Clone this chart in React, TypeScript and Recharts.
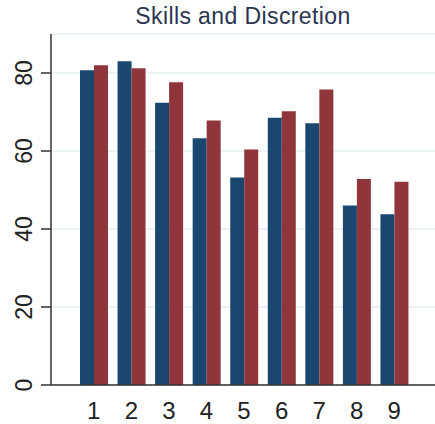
import React from 'react';
import { BarChart, Bar, XAxis, YAxis, CartesianGrid } from 'recharts';

const categories = ['1', '2', '3', '4', '5', '6', '7', '8', '9'];
const seriesA = [80.7, 83.0, 72.4, 63.3, 53.2, 68.5, 67.1, 46.0, 43.8];
const seriesB = [82.0, 81.2, 77.6, 67.8, 60.4, 70.2, 75.8, 52.8, 52.1];
const yTicks = [0, 20, 40, 60, 80];
const title = 'Skills and Discretion';

const data = categories.map((c, i) => ({ cat: c, a: seriesA[i], b: seriesB[i] }));

const YTick = (props: any) => {
  const { y, payload } = props;
  return (
    <text
      x={0}
      y={0}
      transform={`translate(24, ${y}) rotate(-90)`}
      textAnchor="middle"
      dominantBaseline="central"
      fontSize={23}
      fill="#222"
      fontFamily="Liberation Sans, Arial, sans-serif"
    >
      {payload.value}
    </text>
  );
};

const XTick = (props: any) => {
  const { x, payload } = props;
  return (
    <text
      x={x}
      y={419}
      textAnchor="middle"
      fontSize={24}
      fill="#222"
      fontFamily="Liberation Sans, Arial, sans-serif"
    >
      {payload.value}
    </text>
  );
};

export default function App() {
  return (
    <div style={{ position: 'fixed', left: 0, top: 0, width: 435, height: 424, background: '#fff' }}>
      <div
        style={{
          position: 'absolute',
          left: 51,
          width: 384,
          top: 3,
          textAlign: 'center',
          fontFamily: 'Liberation Sans, Arial, sans-serif',
          fontSize: 23,
          letterSpacing: 0.4,
          lineHeight: '26px',
          color: '#2a3552',
        }}
      >
        {title}
      </div>
      <BarChart
        width={435}
        height={424}
        data={data}
        margin={{ top: 34, right: 0, left: 0, bottom: 0 }}
        barCategoryGap={5}
        barGap={0}
      >
        <CartesianGrid vertical={false} stroke="#e6eff1" strokeWidth={1.5} />
        <XAxis
          dataKey="cat"
          height={39}
          padding={{ left: 24, right: 22 }}
          tickLine={false}
          axisLine={{ stroke: '#333', strokeWidth: 1.5 }}
          tick={<XTick />}
          interval={0}
        />
        <YAxis
          width={51}
          domain={[0, 90]}
          ticks={yTicks}
          allowDataOverflow
          axisLine={{ stroke: '#333', strokeWidth: 1.5 }}
          tickLine={{ stroke: '#333', strokeWidth: 1.5 }}
          tickSize={10}
          tick={<YTick />}
        />
        <Bar dataKey="a" fill="#1a476f" isAnimationActive={false} />
        <Bar dataKey="b" fill="#90353b" isAnimationActive={false} />
      </BarChart>
    </div>
  );
}
